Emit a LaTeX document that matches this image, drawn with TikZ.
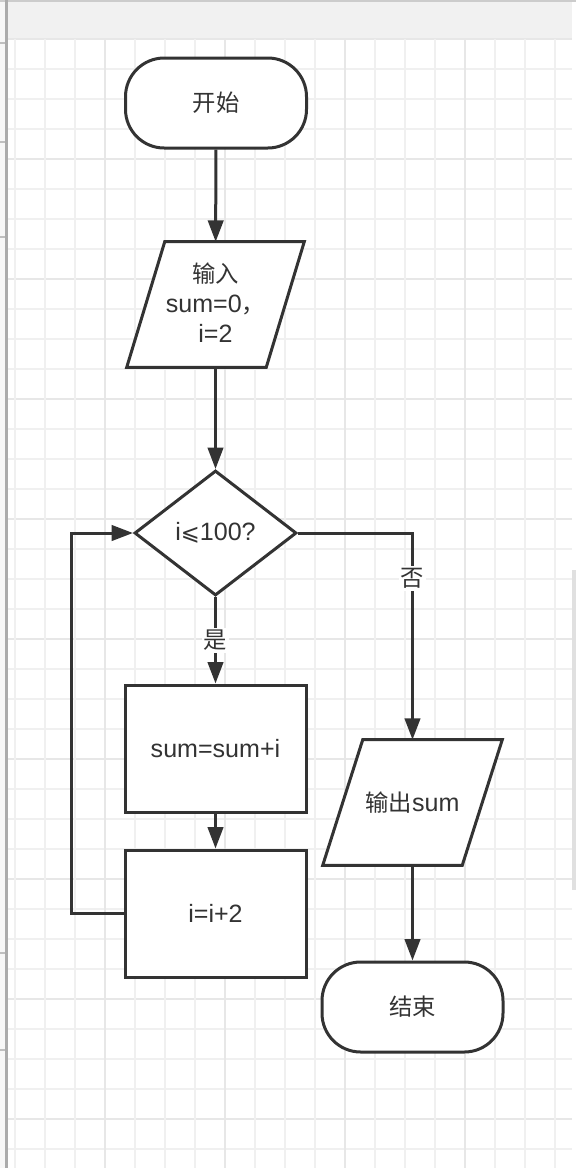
\documentclass[tikz,border=0pt]{standalone}
\usepackage{fontspec}
\setmainfont{Liberation Sans}
\newfontfamily\cjkf{Noto Sans CJK SC}
\newcommand{\cjk}{\cjkf\fontsize{17.5pt}{22.5pt}\selectfont}
\newfontfamily\dejavu{DejaVu Sans}
\usetikzlibrary{arrows.meta,shapes.geometric,calc}
\definecolor{ink}{HTML}{333333}
\definecolor{gminor}{HTML}{F0F0F0}
\definecolor{gmajor}{HTML}{E7E7E7}
\definecolor{hdr}{HTML}{F1F1F1}
\definecolor{bar}{HTML}{ABABAB}
\tikzset{
  every node/.style={text=ink, font=\fontsize{18.8pt}{22.5pt}\selectfont},
  shp/.style={draw=ink, line width=2.25pt, fill=white},
  term/.style={shp, rectangle, rounded corners=29pt, minimum width=135.75pt, minimum height=67.5pt, inner sep=0pt},
  procbox/.style={shp, rectangle, minimum width=135.75pt, minimum height=95.25pt, inner sep=0pt},
  decbox/.style={shp, diamond, minimum width=121.5pt, minimum height=93.75pt, inner sep=0pt},
  iobox/.style={rectangle, inner sep=0pt, align=center},
  arr/.style={draw=ink, line width=2.25pt, -{Triangle[length=16pt,width=11.5pt]}},
  lbl/.style={fill=white, inner sep=1.5pt},
}
\begin{document}
\begin{tikzpicture}[x=0.75pt,y=-0.75pt]
\useasboundingbox (0,0) rectangle (576,1168);
% background
\fill[white] (0,0) rectangle (576,1168);
\fill[hdr] (7,0) rectangle (572,39);
\fill[hdr!60!white] (0,0) rectangle (5,1168);
% grid
\foreach \k in {0,...,37} {
  \pgfmathtruncatemacro{\m}{mod(\k,4)}
  \ifnum\m=0
    \draw[gmajor, line width=1.5pt] (7,39+30*\k) -- (572,39+30*\k);
  \else
    \draw[gminor, line width=1.5pt] (7,39+30*\k) -- (572,39+30*\k);
  \fi
}
\foreach \k in {0,...,18} {
  \pgfmathtruncatemacro{\m}{mod(\k,4)}
  \ifnum\m=3
    \draw[gmajor, line width=1.5pt] (15+30*\k,39) -- (15+30*\k,1168);
  \else
    \draw[gminor, line width=1.5pt] (15+30*\k,39) -- (15+30*\k,1168);
  \fi
}
\fill[black!20] (0,0) rectangle (576,2);
\fill[bar] (5,0) rectangle (7.5,1168);
\foreach \yy in {43,142,237,953,1050} {
  \fill[black!25] (0,\yy-1) rectangle (5,\yy+1);
}
\fill[black!12] (572,570) rectangle (576,890);

% nodes
\node[term] (start) at (216,103) {\cjk 开始};
\node[iobox, minimum width=132.75pt, minimum height=93.75pt] (in) at (215.5,304.5) {};
\draw[shp] ($(in.north west)+(38,0)$) -- (in.north east) -- ($(in.south east)-(38,0)$) -- (in.south west) -- cycle;
\node[align=center] (intext) at ([yshift=1.5pt]in.center) {{\cjk 输入}\\sum=0{\cjk ，}\\i=2};
\node[decbox] (dec) at (215.5,533) {i{\dejavu\fontsize{17pt}{20pt}\selectfont ⩽}100?};
\node[procbox] (b1) at (215.5,748.5) {sum=sum+i};
\node[procbox] (b2) at (215.5,913.5) {i=i+2};
\node[iobox, minimum width=134.25pt, minimum height=93.75pt] (out) at (412.5,802.5) {};
\draw[shp] ($(out.north west)+(40,0)$) -- (out.north east) -- ($(out.south east)-(40,0)$) -- (out.south west) -- cycle;
\node (outtext) at (out.center) {{\cjk 输出}sum};
\node[term] (end) at (412.5,1007) {\cjk 结束};
\coordinate (lp) at (71,913.5);

% connectors
\draw[arr] (start) -- (in);
\draw[arr] (in) -- (dec);
\draw[arr] (dec) -- node[lbl] {\cjk 是} (b1);
\draw[arr] (b1) -- (b2);
\draw[arr] (b2.west) -- (lp) |- (dec.west);
\draw[arr] (dec.east) -| node[lbl, pos=0.61] {\cjk 否} (out.north);
\draw[arr] (out) -- (end);
\end{tikzpicture}
\end{document}
